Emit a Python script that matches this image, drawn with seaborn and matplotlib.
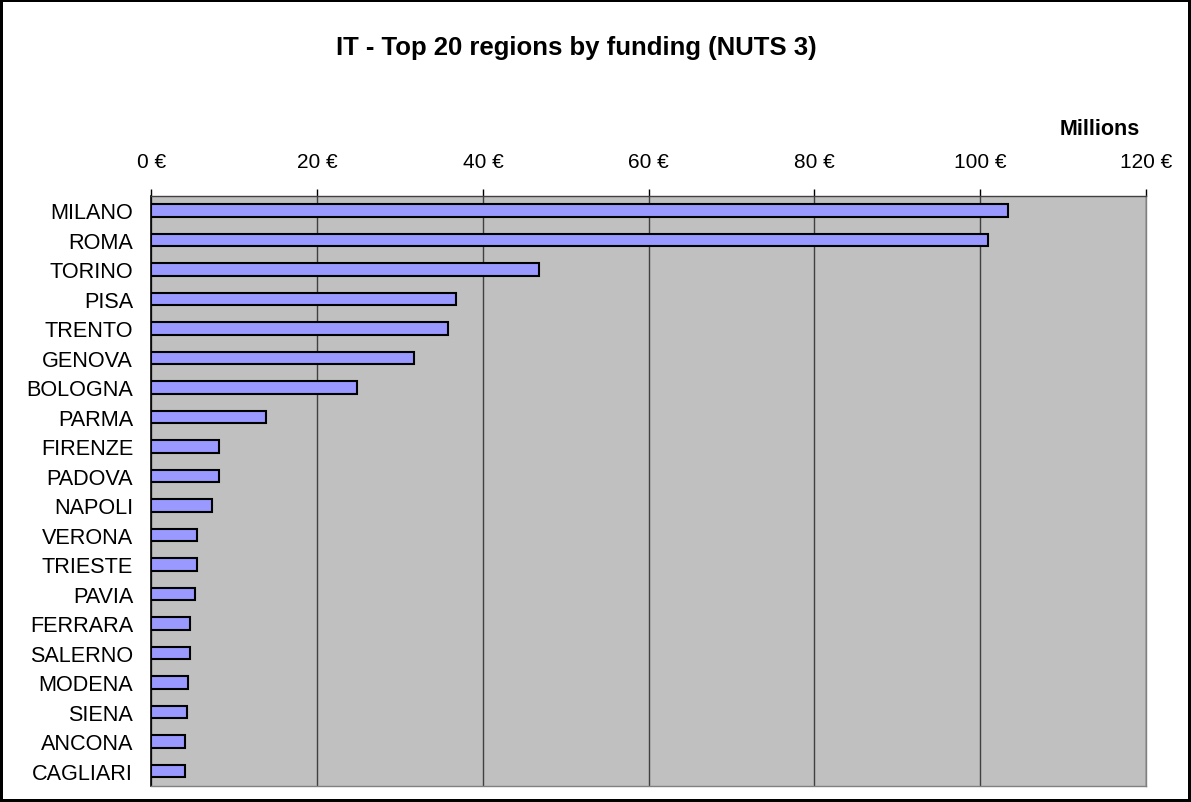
import matplotlib
matplotlib.use("Agg")
import matplotlib.pyplot as plt
import seaborn as sns
import pandas as pd
import numpy as np

# Dữ liệu (triệu €)
regions = ["MILANO", "ROMA", "TORINO", "PISA", "TRENTO", "GENOVA", "BOLOGNA",
           "PARMA", "FIRENZE", "PADOVA", "NAPOLI", "VERONA", "TRIESTE", "PAVIA",
           "FERRARA", "SALERNO", "MODENA", "SIENA", "ANCONA", "CAGLIARI"]
funding = [103.4, 100.9, 46.7, 36.8, 35.8, 31.7, 24.8,
           13.85, 8.2, 8.2, 7.35, 5.5, 5.5, 5.25,
           4.6, 4.6, 4.45, 4.25, 4.0, 4.0]
x_ticks = [0, 20, 40, 60, 80, 100, 120]
x_tick_labels = ["0 €", "20 €", "40 €", "60 €", "80 €", "100 €", "120 €"]

df = pd.DataFrame({"Region": regions, "Funding": funding})

sns.set_style("white")
plt.rcParams["font.family"] = ["Liberation Sans", "DejaVu Sans"]
plt.rcParams["text.color"] = "black"
plt.rcParams["xtick.color"] = "black"
plt.rcParams["ytick.color"] = "black"

fig = plt.figure(figsize=(11.91, 8.03), dpi=100)
fig.patch.set_edgecolor("black")
fig.patch.set_linewidth(3)

ax = fig.add_axes([0.1272, 0.0203, 0.835, 0.7347])
ax.set_facecolor("#C0C0C0")

sns.barplot(data=df, x="Funding", y="Region", orient="h", color="#9999FF",
            edgecolor="black", linewidth=1.5, width=0.42, saturation=1, ax=ax)

ax.set_xlim(0, 120)
ax.set_ylim(19.5, -0.5)
ax.set_xticks(x_ticks)
ax.set_xticklabels(x_tick_labels)
ax.xaxis.tick_top()
ax.tick_params(axis="x", which="major", direction="out", length=5, width=1,
               labelsize=15, pad=13)

# tick chia giữa các nhóm (kiểu Excel)
ax.set_yticks(np.arange(-0.5, 20, 1), minor=True)
ax.tick_params(axis="y", which="minor", direction="out", length=5, width=1)
ax.tick_params(axis="y", which="major", length=0, labelsize=15.6, pad=13.3)

ax.grid(axis="x", color="#404040", linewidth=1)
ax.set_axisbelow(True)

for side in ["right", "bottom"]:
    ax.spines[side].set_color("#808080")
    ax.spines[side].set_linewidth(1)
ax.spines["left"].set_color("black")
ax.spines["left"].set_linewidth(1.2)
ax.spines["top"].set_color("#404040")
ax.spines["top"].set_linewidth(1)

ax.set_xlabel("")
ax.set_ylabel("")

fig.text(0.484, 0.940, "IT - Top 20 regions by funding (NUTS 3)", ha="center",
         va="center", fontsize=18.5, fontweight="bold")
fig.text(0.957, 0.8387, "Millions", ha="right", va="center", fontsize=15.5,
         fontweight="bold")

fig.savefig("out.png", dpi=100, edgecolor=fig.get_edgecolor())
